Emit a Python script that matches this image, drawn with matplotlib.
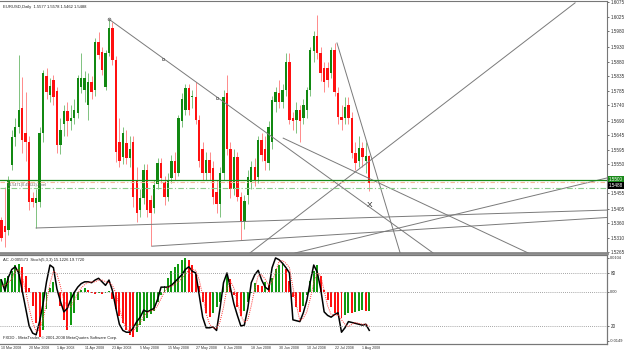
import numpy as np
import matplotlib.pyplot as plt

plt.rcParams['font.family'] = ['Liberation Sans', 'DejaVu Sans']

# EURUSD daily bars, 10 Mar 2008 .. 5 Aug 2008 (bar index = trading day)
opens = [1.5369, 1.5350, 1.5336, 1.5547, 1.5638, 1.5670, 1.5732, 1.5650, 1.5622, 1.5440,
         1.5424, 1.5427, 1.5650, 1.5835, 1.5774, 1.5822, 1.5787, 1.5612, 1.5680, 1.5722,
         1.5690, 1.5700, 1.5715, 1.5800, 1.5790, 1.5740, 1.5816, 1.5790, 1.5945, 1.5913,
         1.5800, 1.5910, 1.5991, 1.5887, 1.5620, 1.5573, 1.5618, 1.5570, 1.5621, 1.5500,
         1.5400, 1.5440, 1.5531, 1.5433, 1.5408, 1.5485, 1.5553, 1.5492, 1.5443, 1.5505,
         1.5560, 1.5520, 1.5690, 1.5725, 1.5796, 1.5768, 1.5767, 1.5693, 1.5600, 1.5521,
         1.5563, 1.5537, 1.5460, 1.5420, 1.5520, 1.5780, 1.5600, 1.5470, 1.5573, 1.5443,
         1.5362, 1.5450, 1.5492, 1.5540, 1.5508, 1.5628, 1.5600, 1.5553, 1.5620, 1.5751,
         1.5780, 1.5751, 1.5790, 1.5881, 1.5700, 1.5693, 1.5725, 1.5700, 1.5725, 1.5790,
         1.5915, 1.5965, 1.5910, 1.5861, 1.5861, 1.5845, 1.5919, 1.5780, 1.5702, 1.5699,
         1.5740, 1.5700, 1.5586, 1.5560, 1.5602, 1.5560, 1.5577]
highs = [1.5380, 1.5476, 1.5510, 1.5660, 1.5700, 1.5904, 1.5832, 1.5783, 1.5640, 1.5460,
         1.5470, 1.5670, 1.5855, 1.5860, 1.5830, 1.5840, 1.5800, 1.5700, 1.5740, 1.5750,
         1.5740, 1.5760, 1.5840, 1.5910, 1.5850, 1.5845, 1.5835, 1.5958, 1.5978, 1.5930,
         1.5920, 1.6019, 1.6010, 1.5900, 1.5700, 1.5670, 1.5660, 1.5640, 1.5640, 1.5540,
         1.5470, 1.5550, 1.5550, 1.5450, 1.5500, 1.5570, 1.5570, 1.5510, 1.5520, 1.5580,
         1.5590, 1.5710, 1.5780, 1.5810, 1.5810, 1.5790, 1.5816, 1.5710, 1.5620, 1.5590,
         1.5590, 1.5560, 1.5500, 1.5540, 1.5790, 1.5838, 1.5620, 1.5600, 1.5590, 1.5460,
         1.5450, 1.5530, 1.5560, 1.5570, 1.5640, 1.5650, 1.5640, 1.5690, 1.5770, 1.5800,
         1.5822, 1.5810, 1.5910, 1.5910, 1.5720, 1.5750, 1.5740, 1.5760, 1.5800, 1.5930,
         1.5980, 1.6033, 1.5930, 1.5880, 1.5880, 1.5930, 1.5942, 1.5800, 1.5740, 1.5767,
         1.5767, 1.5720, 1.5620, 1.5640, 1.5620, 1.5620, 1.5578]
lows = [1.5300, 1.5282, 1.5320, 1.5530, 1.5610, 1.5650, 1.5586, 1.5560, 1.5401, 1.5410,
        1.5343, 1.5410, 1.5620, 1.5760, 1.5750, 1.5740, 1.5586, 1.5582, 1.5640, 1.5640,
        1.5660, 1.5680, 1.5700, 1.5780, 1.5750, 1.5693, 1.5760, 1.5770, 1.5890, 1.5840,
        1.5790, 1.5900, 1.5870, 1.5557, 1.5540, 1.5550, 1.5550, 1.5540, 1.5411, 1.5362,
        1.5380, 1.5420, 1.5380, 1.5284, 1.5390, 1.5470, 1.5490, 1.5417, 1.5430, 1.5490,
        1.5500, 1.5510, 1.5670, 1.5710, 1.5710, 1.5730, 1.5680, 1.5540, 1.5500, 1.5500,
        1.5500, 1.5420, 1.5390, 1.5380, 1.5500, 1.5580, 1.5440, 1.5450, 1.5430, 1.5304,
        1.5340, 1.5420, 1.5470, 1.5480, 1.5490, 1.5560, 1.5530, 1.5530, 1.5600, 1.5720,
        1.5730, 1.5730, 1.5770, 1.5680, 1.5660, 1.5650, 1.5620, 1.5680, 1.5700, 1.5770,
        1.5880, 1.5890, 1.5820, 1.5783, 1.5800, 1.5830, 1.5770, 1.5680, 1.5660, 1.5680,
        1.5680, 1.5570, 1.5530, 1.5540, 1.5540, 1.5520, 1.5462]
closes = [1.5311, 1.5330, 1.5498, 1.5638, 1.5670, 1.5725, 1.5628, 1.5620, 1.5427, 1.5427,
          1.5440, 1.5650, 1.5845, 1.5783, 1.5803, 1.5767, 1.5612, 1.5660, 1.5722, 1.5690,
          1.5700, 1.5725, 1.5829, 1.5829, 1.5829, 1.5816, 1.5783, 1.5945, 1.5903, 1.5855,
          1.5910, 1.5991, 1.5887, 1.5590, 1.5560, 1.5650, 1.5570, 1.5600, 1.5443, 1.5391,
          1.5440, 1.5531, 1.5401, 1.5391, 1.5482, 1.5553, 1.5505, 1.5443, 1.5500, 1.5560,
          1.5520, 1.5700, 1.5760, 1.5796, 1.5725, 1.5770, 1.5693, 1.5560, 1.5521, 1.5563,
          1.5521, 1.5443, 1.5420, 1.5520, 1.5767, 1.5600, 1.5470, 1.5573, 1.5443, 1.5362,
          1.5430, 1.5508, 1.5540, 1.5500, 1.5628, 1.5580, 1.5560, 1.5670, 1.5757, 1.5783,
          1.5751, 1.5790, 1.5881, 1.5693, 1.5690, 1.5725, 1.5690, 1.5741, 1.5790, 1.5919,
          1.5965, 1.5910, 1.5845, 1.5816, 1.5822, 1.5919, 1.5783, 1.5702, 1.5693, 1.5735,
          1.5700, 1.5586, 1.5553, 1.5602, 1.5573, 1.5577, 1.5488]

# Accelerator oscillator and Stochastic(5,3,3), one value per bar
ac = [0.0035, 0.0040, 0.0045, 0.0060, 0.0075, 0.0080, 0.0070, 0.0045, 0.0010, -0.0040,
      -0.0090, -0.0130, -0.0110, -0.0050, 0.0010, 0.0028, 0.0000, -0.0040, -0.0080, -0.0110,
      -0.0095, -0.0060, -0.0025, 0.0005, 0.0010, 0.0005, -0.0003, -0.0008, -0.0005, -0.0006,
      -0.0003, 0.0002, -0.0020, -0.0050, -0.0070, -0.0090, -0.0110, -0.0125, -0.0130, -0.0115,
      -0.0095, -0.0085, -0.0075, -0.0065, -0.0055, -0.0030, -0.0010, 0.0015, 0.0040, 0.0060,
      0.0070, 0.0080, 0.0090, 0.0097, 0.0090, 0.0075, 0.0050, 0.0015, -0.0030, -0.0060,
      -0.0073, -0.0060, -0.0045, -0.0030, 0.0025, 0.0050, 0.0035, -0.0010, -0.0045, -0.0070,
      -0.0055, -0.0030, -0.0005, 0.0025, 0.0020, 0.0015, 0.0028, 0.0020, 0.0040, 0.0065,
      0.0075, 0.0080, 0.0065, 0.0030, -0.0015, -0.0045, -0.0058, -0.0040, -0.0010, 0.0030,
      0.0060, 0.0077, 0.0045, 0.0005, -0.0025, -0.0045, -0.0060, -0.0067, -0.0075, -0.0068,
      -0.0060, -0.0062, -0.0058, -0.0055, -0.0052, -0.0056, -0.005573]
stoch_main = [72, 60, 75, 84, 87, 80, 60, 40, 20, 12, 10, 25, 45, 70, 89, 86, 62, 48, 36, 40,
              50, 58, 64, 68, 70, 70, 69, 72, 74, 70, 66, 72, 60, 40, 22, 15, 13, 13, 18, 25,
              30, 38, 36, 38, 40, 50, 64, 64, 64, 66, 70, 74, 78, 84, 87, 82, 80, 55, 30, 18,
              18, 19, 15, 40, 69, 80, 63, 45, 32, 20, 21, 40, 69, 78, 83, 72, 64, 61, 86, 97,
              95, 91, 86, 80, 27, 26, 25, 35, 49, 70, 89, 81, 62, 36, 32, 30, 33, 35, 13, 18,
              25, 24, 23, 22, 21, 22, 15.1226]
stoch_signal = [65, 66, 69, 73, 82, 84, 76, 60, 40, 24, 14, 16, 27, 47, 68, 82, 79, 65, 49, 41,
                42, 49, 57, 63, 67, 69, 70, 70, 72, 72, 70, 69, 66, 57, 41, 26, 17, 14, 15, 19,
                24, 31, 35, 37, 38, 43, 51, 59, 64, 65, 67, 70, 74, 79, 83, 84, 83, 72, 55, 34,
                22, 18, 17, 25, 41, 63, 71, 63, 47, 32, 24, 27, 43, 62, 77, 78, 73, 66, 70, 81,
                93, 94, 91, 86, 64, 44, 26, 29, 36, 51, 69, 80, 77, 60, 43, 33, 32, 33, 27, 22,
                19, 22, 24, 23, 22, 22, 19.7720]

tick_bars = [0, 8, 16, 24, 32, 40, 48, 56, 64, 72, 80, 88, 96, 104]
tick_labels = ["10 Mar 2008", "20 Mar 2008", "1 Apr 2008", "11 Apr 2008", "23 Apr 2008",
               "5 May 2008", "15 May 2008", "27 May 2008", "6 Jun 2008", "18 Jun 2008",
               "30 Jun 2008", "10 Jul 2008", "22 Jul 2008", "1 Aug 2008"]
price_ticks = [1.6075, 1.6025, 1.5980, 1.5930, 1.5880, 1.5835, 1.5785, 1.5740, 1.5690,
               1.5645, 1.5595, 1.5550, 1.5455, 1.5405, 1.5360, 1.5310, 1.5265]

# trendlines drawn on the chart: (bar, price) -> (bar, price)
trendlines = [
    ((71.6, 1.5262), (165.3, 1.6072)),
    ((31.0, 1.6019), (124.4, 1.5262)),
    ((96.7, 1.5942), (114.9, 1.5262)),
    ((81.2, 1.5634), (151.8, 1.5262)),
    ((10.0, 1.5343), (174.5, 1.5401)),
    ((43.4, 1.5284), (174.5, 1.5377)),
    ((84.6, 1.5262), (174.5, 1.5505)),
]
line_marks = [(46.6, 1.5890), (62.1, 1.5763)]
x_mark = (106.2, 1.5415)

W, H = 625, 352
fig = plt.figure(figsize=(W / 100, H / 100), dpi=100)
ax = fig.add_axes([0, 1 - 253 / H, 607 / W, 252 / H])
axs = fig.add_axes([0, 1 - 343.7 / H, 607 / W, 88.4 / H])

n = len(closes)
x = np.arange(n)
xlim = (-0.4, 174.5)
fs = 3.3      # price / indicator scale labels
fs_d = 2.6    # date labels
fs_t = 3.0    # info texts

for i in range(n):
    o, h, l, c = opens[i], highs[i], lows[i], closes[i]
    up = c >= o
    ax.vlines(i, l, h, color='#7fc27f' if up else '#ff8a8a', lw=0.7, zorder=2)
    ax.bar(i, max(abs(c - o), 0.0002), bottom=min(o, c), width=0.7,
           color='#118811' if up else '#ff1010', lw=0, zorder=3)

for (x0, y0), (x1, y1) in trendlines:
    ax.plot([x0, x1], [y0, y1], color='#7a7a7a', lw=0.7, zorder=4)
for mx, my in line_marks:
    ax.plot(mx, my, marker='s', ms=1.6, mfc='none', mec='#606060', mew=0.5, zorder=5)
ax.plot(31.0, 1.6019, marker='o', ms=2, mfc='none', mec='#606060', mew=0.5, zorder=5)
ax.text(x_mark[0], x_mark[1], 'X', fontsize=6, ha='center', va='center', color='#222222')

ax.axhline(1.5500, color='#1a8a1a', lw=0.9, zorder=4)
ax.axhline(1.5493, color='#f7b89a', lw=0.8, ls=(0, (4, 2, 1, 2)), zorder=4)
ax.axhline(1.5471, color='#8ccc8c', lw=0.8, ls=(0, (5, 2, 1, 2)), zorder=4)
ax.text(2, 1.5476, '#1.5471(0.49622)-level', fontsize=2.7, color='#666666', va='bottom')

ax.text(0.005, 0.985, 'EURUSD,Daily  1.5577 1.5578 1.5462 1.5488', transform=ax.transAxes,
        fontsize=fs_t, va='top', ha='left', color='#222222')

ax.set_xlim(*xlim)
ax.set_ylim(1.5262, 1.6078)
ax.set_xticks([])
ax.yaxis.tick_right()
ax.set_yticks(price_ticks)
ax.set_yticklabels([f'{p:.4f}' for p in price_ticks])
ax.tick_params(axis='y', labelsize=fs, length=1.5, width=0.5, pad=1, colors='#333333')
ax.spines['left'].set_visible(False)
for s in ['top', 'right']:
    ax.spines[s].set_color('#777777')
    ax.spines[s].set_linewidth(0.8)
ax.spines['bottom'].set_color('#888888')
ax.spines['bottom'].set_linewidth(2)

# current price labels on the price scale
ax.text(1.003, 1.5500, '1.5500', transform=ax.get_yaxis_transform(), fontsize=fs,
        color='white', va='center', ha='left',
        bbox=dict(boxstyle='square,pad=0.15', fc='#1a8a1a', ec='none'))
ax.text(1.003, 1.5481, '1.5488', transform=ax.get_yaxis_transform(), fontsize=fs,
        color='white', va='center', ha='left',
        bbox=dict(boxstyle='square,pad=0.15', fc='black', ec='none'))

# indicator window
axa = axs.twinx()
axs.set_zorder(axa.get_zorder() + 1)
axs.patch.set_visible(False)
ac_cols = ['#119911' if (i == 0 or ac[i] >= ac[i - 1]) else '#ff1010' for i in range(n)]
axa.bar(x, ac, width=0.55, color=ac_cols, lw=0)
axa.set_ylim(-0.0149, 0.0104)
axa.axhline(0, color='#888888', lw=0.6, ls=(0, (1, 1.5)))
axs.plot(x, stoch_main, color='black', lw=1.1)
axs.plot(x, stoch_signal, color='#ff3030', lw=0.7, ls=(0, (1, 1.2)))
axs.axhline(80, color='#888888', lw=0.6, ls=(0, (1, 1.5)))
axs.axhline(20, color='#888888', lw=0.6, ls=(0, (1, 1.5)))
axs.set_ylim(0, 100)
axs.set_xlim(*xlim)
axa.set_xlim(*xlim)

axs.yaxis.tick_right()
axs.set_yticks([20, 80])
axs.set_yticklabels(['20', '80'])
axa.set_yticks([-0.0140, 0, 0.0097])
axa.set_yticklabels(['-0.0149', '0.00', '0.0104'])
for a in (axs, axa):
    a.tick_params(axis='y', labelsize=fs, length=1.5, width=0.5, pad=1, colors='#333333')
    a.spines['left'].set_visible(False)
    for s in ['top', 'right', 'bottom']:
        a.spines[s].set_color('#777777')
        a.spines[s].set_linewidth(0.8)
axa.tick_params(axis='y', labelsize=2.9, pad=0.8)
axs.set_xticks(tick_bars)
axs.set_xticklabels(tick_labels, ha='left')
axs.tick_params(axis='x', labelsize=fs_d, length=0, pad=1.5, colors='#333333')
axa.tick_params(axis='x', length=0)

axs.text(0.005, 0.97, 'AC -0.005573  Stoch(5,3,3) 15.1226 19.7720', transform=axs.transAxes,
         fontsize=fs_t, va='top', color='#222222')
axs.text(0.005, 0.04, 'FXDD - MetaTrader, \u00a9 2001-2008 MetaQuotes Software Corp.',
         transform=axs.transAxes, fontsize=fs_t, va='bottom', color='#222222')

fig.savefig('out.png', dpi=100, facecolor='white')
